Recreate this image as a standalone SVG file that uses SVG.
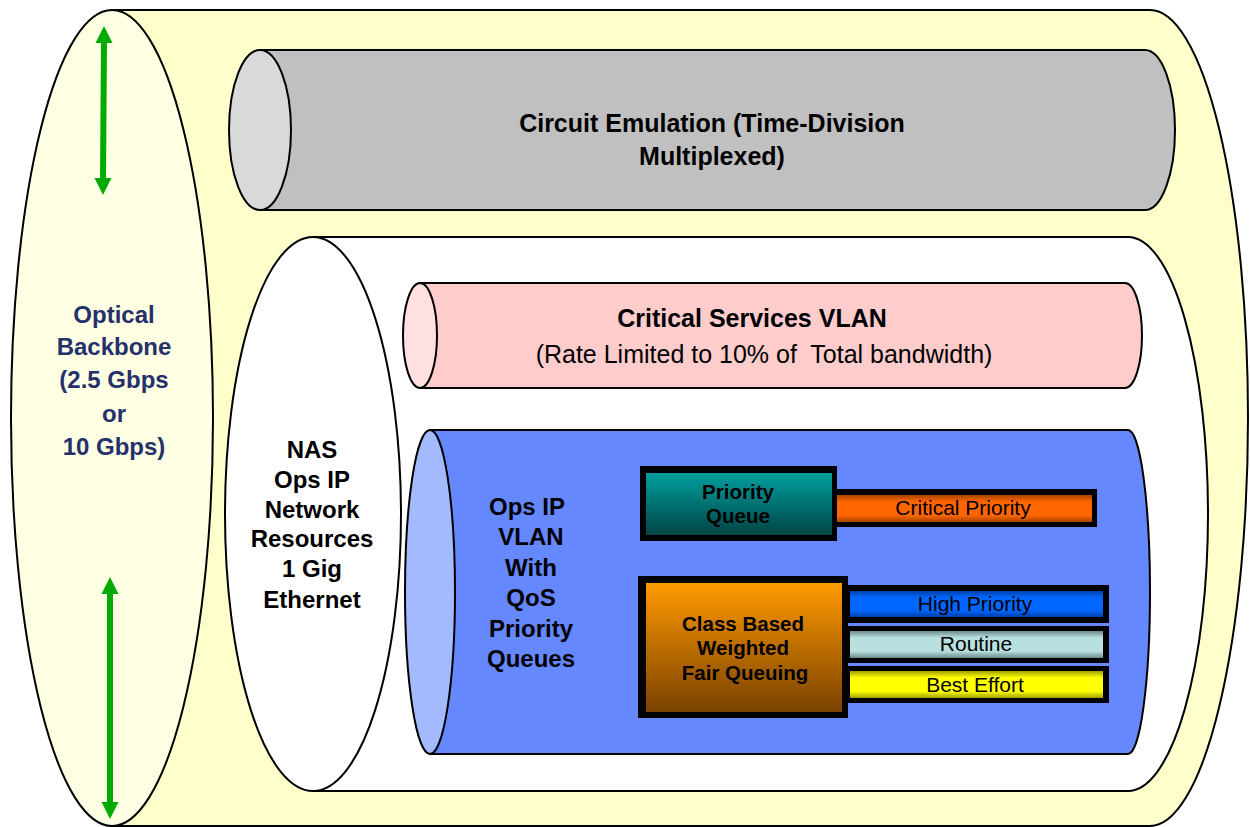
<svg xmlns="http://www.w3.org/2000/svg" width="1250" height="827" viewBox="0 0 1250 827">
<defs>
<style>
.ol{stroke:#000;stroke-width:2}
.b{font-family:"Liberation Sans",Arial,sans-serif;font-weight:bold;font-size:24px;fill:#000;text-anchor:middle}
.b25{font-family:"Liberation Sans",Arial,sans-serif;font-weight:bold;font-size:25px;fill:#000;text-anchor:middle}
.r{font-family:"Liberation Sans",Arial,sans-serif;font-size:25px;fill:#000;text-anchor:middle}
.bx{font-family:"Liberation Sans",Arial,sans-serif;font-weight:bold;font-size:20.5px;fill:#000;text-anchor:middle}
.br{font-family:"Liberation Sans",Arial,sans-serif;font-size:21px;fill:#000;text-anchor:middle}
.arr{stroke:#00AA00;stroke-width:6;fill:none}
.ahd{fill:#00AA00}
</style>
<linearGradient id="gTeal" x1="0" y1="0" x2="0" y2="1"><stop offset="0" stop-color="#009E9E"/><stop offset="1" stop-color="#004545"/></linearGradient>
<linearGradient id="gOrange" x1="0" y1="0" x2="0" y2="1"><stop offset="0" stop-color="#FF9900"/><stop offset="1" stop-color="#7A4200"/></linearGradient>
<linearGradient id="gCrit" x1="0" y1="0" x2="0" y2="1"><stop offset="0" stop-color="#A84400"/><stop offset="0.25" stop-color="#FF6600"/><stop offset="0.75" stop-color="#FF6600"/><stop offset="1" stop-color="#A84400"/></linearGradient>
<linearGradient id="gHigh" x1="0" y1="0" x2="0" y2="1"><stop offset="0" stop-color="#0040A8"/><stop offset="0.25" stop-color="#0066FF"/><stop offset="0.75" stop-color="#0066FF"/><stop offset="1" stop-color="#0040A8"/></linearGradient>
<linearGradient id="gRout" x1="0" y1="0" x2="0" y2="1"><stop offset="0" stop-color="#6E8A8A"/><stop offset="0.25" stop-color="#B8E0E0"/><stop offset="0.75" stop-color="#B8E0E0"/><stop offset="1" stop-color="#6E8A8A"/></linearGradient>
<linearGradient id="gBest" x1="0" y1="0" x2="0" y2="1"><stop offset="0" stop-color="#A0A000"/><stop offset="0.25" stop-color="#FFFF00"/><stop offset="0.75" stop-color="#FFFF00"/><stop offset="1" stop-color="#A0A000"/></linearGradient>
</defs>

<g id="optical-backbone">
<path class="ol" d="M112,10 H1150 A98 408 0 0 1 1150,826 H112 Z" fill="#FFFFCC"/>
<ellipse class="ol" cx="112" cy="418" rx="101" ry="408" fill="#FFFFE3"/>
<text class="b" style="fill:#24306A"><tspan x="114" y="323">Optical</tspan><tspan x="114" y="355">Backbone</tspan><tspan x="114" y="388">(2.5 Gbps</tspan><tspan x="114" y="422">or</tspan><tspan x="114" y="455">10 Gbps)</tspan></text>
</g>

<g id="circuit-emulation">
<path class="ol" d="M260,50 H1145 A30 80 0 0 1 1145,210 H260 Z" fill="#C0C0C0"/>
<ellipse class="ol" cx="260" cy="130" rx="31" ry="80" fill="#D9D9D9"/>
<text class="b25"><tspan x="712" y="132">Circuit Emulation (Time-Division</tspan><tspan x="712" y="165">Multiplexed)</tspan></text>
</g>

<g id="nas">
<path class="ol" d="M313,237 H1128 A80 277 0 0 1 1128,791 H313 Z" fill="#FFFFFF"/>
<ellipse class="ol" cx="313" cy="514" rx="88" ry="277" fill="#FFFFFF"/>
<text class="b"><tspan x="312" y="458">NAS</tspan><tspan x="312" y="488">Ops IP</tspan><tspan x="312" y="518">Network</tspan><tspan x="312" y="547">Resources</tspan><tspan x="312" y="577">1 Gig</tspan><tspan x="312" y="608">Ethernet</tspan></text>
</g>

<g id="critical-services">
<path class="ol" d="M420,283 H1125 A17 52.5 0 0 1 1125,388 H420 Z" fill="#FFCCCC"/>
<ellipse class="ol" cx="420" cy="335.5" rx="17" ry="52.5" fill="#FFE0E0"/>
<text class="b25" x="752" y="327">Critical Services VLAN</text>
<text class="r" x="764" y="363" xml:space="preserve">(Rate Limited to 10% of  Total bandwidth)</text>
</g>

<g id="ops-ip-vlan">
<path class="ol" d="M430,430 H1128 A22 162 0 0 1 1128,754 H430 Z" fill="#6688FF"/>
<ellipse class="ol" cx="430" cy="592" rx="25" ry="162" fill="#A3BAFF"/>
<text class="b"><tspan x="527" y="515">Ops IP</tspan><tspan x="531" y="545">VLAN</tspan><tspan x="531" y="576">With</tspan><tspan x="531" y="606">QoS</tspan><tspan x="531" y="637">Priority</tspan><tspan x="531" y="667">Queues</tspan></text>
</g>

<g id="priority-queue">
<rect x="640" y="466" width="197" height="75" fill="#000"/>
<rect x="646" y="473" width="186" height="62" fill="url(#gTeal)"/>
<text class="bx"><tspan x="738" y="499">Priority</tspan><tspan x="738" y="523">Queue</tspan></text>
</g>

<g id="critical-priority">
<rect x="837" y="489" width="260" height="38" fill="#000"/>
<rect x="837" y="495" width="255" height="27" fill="url(#gCrit)"/>
<text class="br" x="963" y="515">Critical Priority</text>
</g>

<g id="cbwfq">
<rect x="638" y="576" width="210" height="142" fill="#000"/>
<rect x="646" y="583" width="196" height="129" fill="url(#gOrange)"/>
<text class="bx"><tspan x="743" y="631">Class Based</tspan><tspan x="743" y="655">Weighted</tspan><tspan x="745" y="680">Fair Queuing</tspan></text>
</g>

<g id="high-priority">
<rect x="848" y="585" width="261" height="38" fill="#000"/>
<rect x="850" y="591" width="253" height="26" fill="url(#gHigh)"/>
<text class="br" x="975" y="611">High Priority</text>
</g>

<g id="routine">
<rect x="848" y="626" width="261" height="37" fill="#000"/>
<rect x="850" y="631" width="253" height="27" fill="url(#gRout)"/>
<text class="br" x="976" y="651">Routine</text>
</g>

<g id="best-effort">
<rect x="848" y="666" width="261" height="37" fill="#000"/>
<rect x="850" y="671" width="253" height="27" fill="url(#gBest)"/>
<text class="br" x="975" y="692">Best Effort</text>
</g>

<g id="connectors">
<line class="arr" x1="104" y1="40" x2="103" y2="181"/>
<polygon class="ahd" points="104,26 95.5,43 112.5,43"/>
<polygon class="ahd" points="103,195 94.5,178 111.5,178"/>
<line class="arr" x1="110" y1="591" x2="110" y2="805"/>
<polygon class="ahd" points="110,577 101.5,594 118.5,594"/>
<polygon class="ahd" points="110,819 101.5,802 118.5,802"/>
</g>
</svg>
